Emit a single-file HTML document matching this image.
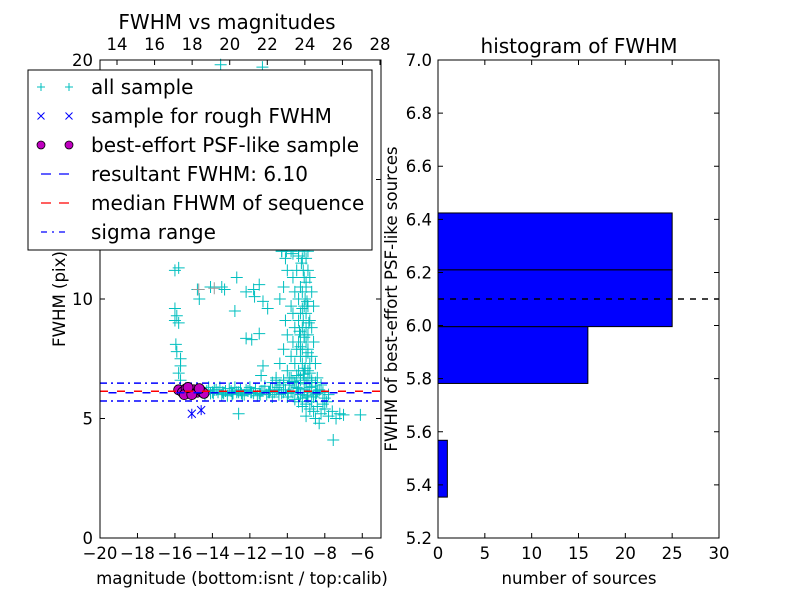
<!DOCTYPE html>
<html><head><meta charset="utf-8"><style>
body{margin:0;background:#fff}
svg{display:block;font-family:"DejaVu Sans","Liberation Sans",sans-serif}
</style></head><body>
<svg id="fig" width="800" height="600" viewBox="0 0 800 600">
<rect width="800" height="600" fill="#fff"/>
<g id="left"></g>
<g id="right"></g>
</svg>
<script>
// ---- data: scatter (magnitude, fwhm) ----
const allMag = [-13.56,-11.33,-10.3,-10.05,-9.7,-9.4,
-14.3,-14.1,-13.9,-13.7,-13.5,-13.3,-13.1,-12.9,-12.7,-12.5,-12.3,-12.1,-11.9,-11.7,-11.5,-11.3,-11.1,-10.9,-10.7,-10.5,-10.3,-10.1,-9.9,-9.7,-9.5,-9.3,-9.1,-8.9,-8.7,-8.5,-8.3,
-14.2,-13.6,-12.8,-12.0,-11.2,-10.4,-13.2,-12.4,-11.6,-10.8,-10.0,-9.2,-8.6,-8.0,-7.8,
-14.0,-13.8,-13.4,-13.0,-12.6,-12.2,-11.8,-11.4,-11.0,-10.6,-10.2,-9.8,-9.6,-9.4,-9.0,-8.8,-8.4,-8.2,
-14.4,-13.95,-13.45,-12.95,-12.45,-11.95,-11.45,-10.95,-10.45,-9.95,-9.45,-8.95,-8.45,-8.1,
-10.8,-10.6,-10.2,-9.9,-9.7,-9.5,-9.3,-9.1,-8.7,-8.5,
-9.4,-9.2,-9.0,-8.8,-8.6,-8.4,-8.2,-8.0,-7.8,-7.6,-7.4,-7.2,-8.9,-9.6,-7.55,-6.1,-8.5,-8.3,-9.0,-12.6,-8.7,-8.1,-7.9,-7.0,
-10.3,-9.8,-9.4,-9.1,-8.9,-10.1,-9.2,-9.0,-10.0,-9.5,-9.15,-8.9,-9.7,-9.1,-8.8,-10.2,-9.3,-9.0,-9.6,-9.2,-8.7,-10.4,-9.4,-9.05,
-9.8,-9.1,-8.9,-8.6,-9.7,-9.3,-9.0,-10.1,-9.4,-9.15,-8.8,-9.6,-9.2,-9.0,-8.7,-10.0,-9.3,-9.1,-8.9,-9.7,-9.4,-9.0,-8.6,
-10.2,-9.5,-9.2,-8.9,-9.8,-9.3,-9.0,-8.7,-10.4,-9.6,-9.2,-8.8,-8.5,-10.0,-9.4,-9.1,-8.9,-10.6,-9.8,-9.3,-8.9,-8.4,-10.2,-9.6,-9.0,-8.7,
-9.25,-9.0,-8.95,-9.2,-8.85,-9.1,-9.3,-8.9,-9.05,-9.15,-8.8,-9.35,
-16.0,-15.8,-16.0,-15.9,-16.0,-15.8,-15.95,-15.9,-15.7,-15.7,-15.8,-15.7,
-14.7,-14.8,-14.1,-13.5,-13.35,-12.7,-12.8,-12.2,-11.8,-11.75,-11.5,-11.3,-11.05,-12.2,-11.9,-11.5,-11.4,-11.3];
const allFwhm = [19.8,19.7,12.0,12.0,11.9,11.8,
6.15,6.05,6.2,6.1,6.0,6.15,6.25,6.05,6.1,6.2,6.0,6.15,6.1,6.25,6.05,6.15,6.0,6.2,6.1,6.3,6.05,6.2,6.4,6.1,6.3,6.0,6.2,6.1,6.35,6.0,6.2,
6.3,6.3,6.3,6.3,6.35,6.4,5.95,5.95,5.95,5.9,5.9,5.85,5.9,5.85,6.0,
6.1,6.2,6.05,6.15,6.1,6.2,6.05,6.15,6.1,6.2,6.1,6.15,6.5,6.25,6.45,6.3,6.15,6.4,
6.0,6.05,6.1,6.0,6.05,6.1,6.0,6.1,6.0,6.05,6.1,5.95,6.05,6.1,
6.5,6.6,6.6,6.7,6.55,6.8,6.6,6.7,6.6,6.5,
5.7,5.5,5.6,5.4,5.3,5.5,5.2,5.4,5.1,5.3,5.0,5.2,5.9,5.8,4.1,5.15,5.0,4.8,5.1,5.2,5.7,5.6,5.7,5.15,
12.0,12.0,12.0,12.0,12.0,11.7,11.7,11.7,11.2,11.2,11.2,11.2,10.9,10.9,10.9,10.5,10.5,10.5,10.3,10.3,10.3,10.0,10.0,10.0,
9.7,9.7,9.7,9.7,9.4,9.4,9.4,9.1,9.1,9.1,9.1,8.8,8.8,8.8,8.8,8.5,8.5,8.5,8.5,8.2,8.2,8.2,8.2,
7.9,7.9,7.9,7.9,7.6,7.6,7.6,7.6,7.3,7.3,7.3,7.3,7.3,7.0,7.0,7.0,7.0,6.7,6.7,6.7,6.7,6.7,6.5,6.5,6.5,6.5,
11.5,10.7,9.9,9.6,9.0,8.4,8.0,7.75,7.1,6.85,6.9,8.65,
11.2,11.3,9.6,9.3,9.1,9.0,8.1,7.8,7.5,7.2,6.9,6.6,
10.0,10.4,10.5,10.5,10.4,10.9,9.5,10.3,10.4,10.1,10.6,9.9,9.6,8.35,8.3,8.55,6.8,7.2];
const grayMag = [-14.73,-13.9];
const grayFwhm = [10.4,10.45];
const roughMag = [-15.1,-14.6];
const roughFwhm = [5.2,5.35];
const bestMag = [-15.8,-15.6,-15.4,-15.2,-15.0,-14.8,-14.6,-14.45,-15.5,-15.1,-14.7,-15.3];
const bestFwhm = [6.2,6.1,6.25,6.05,6.2,6.1,6.15,6.05,6.0,6.0,6.25,6.3];
const resultFwhm = 6.10;
const medianFwhm = 6.10;
const sigmaLow = 5.73, sigmaHigh = 6.48;
const xTicks = [-20,-18,-16,-14,-12,-10,-8,-6];
const yTicks = [0,5,10,15,20];
const topTicks = [14,16,18,20,22,24,26,28];
// ---- data: histogram ----
const binLo = [5.354,5.568,5.782,5.996,6.21];
const binHi = [5.568,5.782,5.996,6.21,6.424];
const counts = [1,0,16,25,25];
const hXTicks = [0,5,10,15,20,25,30];
const hYTicks = [5.2,5.4,5.6,5.8,6.0,6.2,6.4,6.6,6.8,7.0];

const NS='http://www.w3.org/2000/svg';
function mk(parent,tag,attrs,text){const e=document.createElementNS(NS,tag);for(const k in attrs)e.setAttribute(k,attrs[k]);if(text!==undefined)e.textContent=text;parent.appendChild(e);return e;}
const L={x0:100,x1:381,y0:60,y1:538};
const xs=m=>L.x0+(m+20)/15*(L.x1-L.x0);
const ys=f=>L.y1-f/20*(L.y1-L.y0);
const xTop=c=>117+(c-14)/14*(380-117);
const left=document.getElementById('left');

function plus(g,x,y,col,name){const p=mk(g,'path',{d:`M${x-6},${y}h12M${x},${y-6}v12`,stroke:col,'stroke-width':1,fill:'none'});

}
const gAll=mk(left,'g',{});


for(let i=0;i<allMag.length;i++)plus(gAll,xs(allMag[i]),ys(allFwhm[i]),'#00bfbf','all-sample-point');
for(let i=0;i<grayMag.length;i++)plus(gAll,xs(grayMag[i]),ys(grayFwhm[i]),'#999','gray-point');
function hline(y,col,dash,off,name){const l=mk(left,'line',{x1:L.x0,x2:L.x1,y1:y,y2:y,stroke:col,'stroke-width':1.5,'stroke-dasharray':dash,'stroke-dashoffset':off});

}
hline(ys(sigmaHigh),'#0000ff','7,4,2,4',0,'sigma-high-line');
hline(ys(sigmaLow),'#0000ff','7,4,2,4',0,'sigma-low-line');
const gB=mk(left,'g',{});


for(let i=0;i<bestMag.length;i++){const c=mk(gB,'circle',{cx:xs(bestMag[i]),cy:ys(bestFwhm[i]),r:5,fill:'#bf00bf',stroke:'#000','stroke-width':0.8});

}
hline(ys(medianFwhm)-1,'#ff0000','8,9',0,'median-line');
hline(ys(resultFwhm)+0.5,'#0000ff','8,9',8.5,'resultant-line');
for(let i=0;i<roughMag.length;i++){const x=xs(roughMag[i]),y=ys(roughFwhm[i]);
const p=mk(left,'path',{d:`M${x-4},${y-4}l8,8M${x-4},${y+4}l8,-8M${x},${y-5}v10`,stroke:'#0000ff','stroke-width':1,fill:'none'});

}
const fr=mk(left,'rect',{x:L.x0,y:L.y0,width:L.x1-L.x0,height:L.y1-L.y0,fill:'none',stroke:'#000','stroke-width':1});


const fs=16.5;
for(const t of xTicks){const x=xs(t);mk(left,'path',{d:`M${x},${L.y1}v-5`,stroke:'#000'});
const tx=mk(left,'text',{x:x,y:559,'font-size':fs,'text-anchor':'middle'},(t<0?'\u2212':'')+Math.abs(t));

}
for(const t of yTicks){const y=ys(t);mk(left,'path',{d:`M${L.x0},${y}h5M${L.x1},${y}h-5`,stroke:'#000'});
const tx=mk(left,'text',{x:93,y:y+6,'font-size':fs,'text-anchor':'end'},t);

}
for(const t of topTicks){const x=xTop(t);mk(left,'path',{d:`M${x},${L.y0}v5`,stroke:'#000'});
const tx=mk(left,'text',{x:x,y:50,'font-size':fs,'text-anchor':'middle'},t);

}
let t;
t=mk(left,'text',{x:227,y:29,'font-size':20,'text-anchor':'middle'},'FWHM vs magnitudes');

t=mk(left,'text',{x:242,y:584,'font-size':16.6,'text-anchor':'middle'},'magnitude (bottom:isnt / top:calib)');

t=mk(left,'text',{x:65,y:299,'font-size':16.6,'text-anchor':'middle',transform:'rotate(-90 65 299)'},'FWHM (pix)');

const lg=mk(left,'g',{});


mk(lg,'rect',{x:28,y:70,width:344,height:180,fill:'#fff',stroke:'#000','stroke-width':1});
const labels=['all sample','sample for rough FWHM','best-effort PSF-like sample','resultant FWHM: 6.10','median FHWM of sequence','sigma range'];
labels.forEach((s,i)=>{const y=87+i*29;
const e=mk(lg,'g',{});


if(i===0){for(const x of[41,69])mk(e,'path',{d:`M${x-4},${y}h8M${x},${y-4}v8`,stroke:'#00bfbf'});}
if(i===1){for(const x of[41,69])mk(e,'path',{d:`M${x-3.5},${y-3.5}l7,7M${x-3.5},${y+3.5}l7,-7`,stroke:'#0000ff'});}
if(i===2){for(const x of[41,69])mk(e,'circle',{cx:x,cy:y,r:4,fill:'#bf00bf',stroke:'#000','stroke-width':0.8});}
if(i===3)mk(e,'path',{d:`M41,${y}h10M59,${y}h10`,stroke:'#0000ff','stroke-width':1.2});
if(i===4)mk(e,'path',{d:`M41,${y}h10M59,${y}h10`,stroke:'#ff0000','stroke-width':1.2});
if(i===5)mk(e,'path',{d:`M41,${y}h6M52,${y}h2M59,${y}h6`,stroke:'#0000ff','stroke-width':1.2});
mk(e,'text',{x:91,y:y+7,'font-size':20},s);});

const R={x0:438,x1:719,y0:60,y1:538};
const hx=v=>R.x0+v/30*(R.x1-R.x0);
const hy=v=>R.y1-(v-5.2)/1.8*(R.y1-R.y0);
const right=document.getElementById('right');
for(let i=0;i<counts.length;i++){if(!counts[i])continue;
const b=mk(right,'rect',{x:hx(0),y:hy(binHi[i]),width:hx(counts[i])-hx(0),height:hy(binLo[i])-hy(binHi[i]),fill:'#0000ff',stroke:'#000','stroke-width':1});

}
const dl=mk(right,'line',{x1:R.x0,x2:R.x1,y1:hy(resultFwhm),y2:hy(resultFwhm),stroke:'#000','stroke-width':1.5,'stroke-dasharray':'6,6'});


const fr2=mk(right,'rect',{x:R.x0,y:R.y0,width:R.x1-R.x0,height:R.y1-R.y0,fill:'none',stroke:'#000'});


for(const v of hXTicks){const x=hx(v);mk(right,'path',{d:`M${x},${R.y1}v-5M${x},${R.y0}v5`,stroke:'#000'});
const tx=mk(right,'text',{x:x,y:559,'font-size':fs,'text-anchor':'middle'},v);

}
for(const v of hYTicks){const y=hy(v);mk(right,'path',{d:`M${R.x0},${y}h5M${R.x1},${y}h-5`,stroke:'#000'});
const tx=mk(right,'text',{x:432,y:y+6,'font-size':fs,'text-anchor':'end'},v.toFixed(1));

}
t=mk(right,'text',{x:579,y:53,'font-size':20,'text-anchor':'middle'},'histogram of FWHM');

t=mk(right,'text',{x:579,y:584,'font-size':16.6,'text-anchor':'middle'},'number of sources');

t=mk(right,'text',{x:397,y:299,'font-size':16.6,'text-anchor':'middle',transform:'rotate(-90 397 299)'},'FWHM of best-effort PSF-like sources');

</script>
</body></html>
